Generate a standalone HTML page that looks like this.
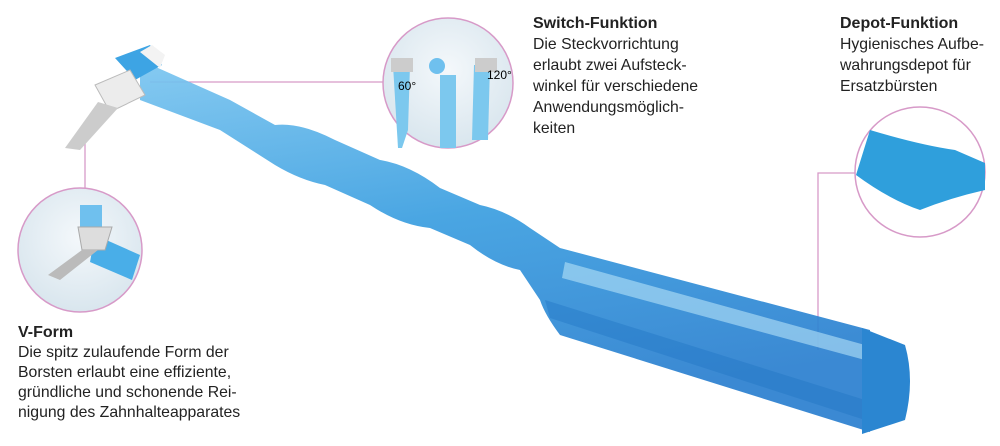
<!DOCTYPE html>
<html><head><meta charset="utf-8"><style>
body{margin:0;width:1000px;height:446px;background:#fff;overflow:hidden;position:relative;font-family:"Liberation Sans",sans-serif;color:#222}
.t{position:absolute;font-size:15.8px;line-height:21px}
.t b{font-size:16px}
</style></head><body>
<svg width="1000" height="446" style="position:absolute;left:0;top:0">
<defs>
<linearGradient id="bl" x1="0" y1="0" x2="0.3" y2="1">
<stop offset="0" stop-color="#7cc6f0"/><stop offset=".5" stop-color="#3a9ee0"/><stop offset="1" stop-color="#2a7fcf"/></linearGradient>
<radialGradient id="cg" cx=".5" cy=".4" r=".6"><stop offset="0" stop-color="#f4f8fb"/><stop offset="1" stop-color="#d9e6ee"/></radialGradient>
</defs>
<g stroke="#d79ac8" stroke-width="1.3" fill="none">
<line x1="150" y1="82" x2="384" y2="82"/>
<line x1="85" y1="140" x2="85" y2="188"/>
<polyline points="818,350 818,173 856,173"/>
</g>
<path d="M140,60 L230,100 L275,125 Q300,122 335,140 L380,160 Q410,165 440,188 L480,205 Q505,210 530,228 L560,248 L870,330 L870,432 L560,335 Q545,315 540,300 L520,270 Q495,265 470,245 L430,228 Q400,225 370,205 L325,185 Q300,180 275,165 L220,130 L140,100 Z" fill="url(#bl)" opacity=".92"/>
<path d="M565,262 L865,345 L865,360 L562,278 Z" fill="#b6e2f8" opacity=".6"/>
<path d="M545,300 L865,400 L865,420 L550,318 Z" fill="#1f73c2" opacity=".4"/>
<path d="M862,328 L905,345 Q915,380 905,420 L862,434 Z" fill="#2b86d1"/>
<path d="M115,58 L150,45 L162,65 L135,80 Z" fill="#3da4e4"/>
<path d="M140,52 L152,45 L165,55 L160,68 Z" fill="#f3f3f3"/>
<path d="M95,85 L130,70 L145,95 L110,112 Z" fill="#ececec" stroke="#bbb"/>
<path d="M98,102 L118,108 L80,150 L65,148 Z" fill="#ccc"/>
<circle cx="80" cy="250" r="62" fill="url(#cg)" stroke="#d79ac8" stroke-width="1.5"/>
<path d="M95,235 L140,255 L132,280 L90,262 Z" fill="#49aee8"/>
<rect x="80" y="205" width="22" height="25" fill="#6fc0ee"/>
<path d="M78,227 L112,227 L105,250 L82,250 Z" fill="#ddd" stroke="#aaa"/>
<path d="M82,250 L98,250 L60,280 L48,275 Z" fill="#bbb"/>
<circle cx="448" cy="83" r="65" fill="url(#cg)" stroke="#d79ac8" stroke-width="1.5"/>
<path d="M393,65 L410,65 L408,130 L402,148 L398,148 Z" fill="#7cc8ee"/>
<path d="M440,75 L456,75 L456,148 L440,148 Z" fill="#7cc8ee"/>
<circle cx="437" cy="66" r="8" fill="#6fc0ee"/>
<path d="M474,65 L490,65 L488,140 L472,140 Z" fill="#7cc8ee"/>
<rect x="391" y="58" width="22" height="14" fill="#ccc"/>
<rect x="475" y="58" width="22" height="14" fill="#ccc"/>
<text x="398" y="90" font-size="12" font-family="Liberation Sans">60°</text>
<text x="487" y="79" font-size="12" font-family="Liberation Sans">120°</text>
<circle cx="920" cy="172" r="65" fill="#fff" stroke="#d79ac8" stroke-width="1.5"/>
<path d="M870,130 Q920,145 955,150 L985,163 L985,190 Q950,198 920,210 Q890,200 856,175 Z" fill="#2f9fdc"/>
</svg>
<div class="t" style="left:18px;top:323px;line-height:20px"><b>V-Form</b><br>Die spitz zulaufende Form der<br>Borsten erlaubt eine effiziente,<br>gründliche und schonende Rei-<br>nigung des Zahnhalteapparates</div>
<div class="t" style="left:533px;top:13px"><b>Switch-Funktion</b><br>Die Steckvorrichtung<br>erlaubt zwei Aufsteck-<br>winkel für verschiedene<br>Anwendungsmöglich-<br>keiten</div>
<div class="t" style="left:840px;top:13px"><b>Depot-Funktion</b><br>Hygienisches Aufbe-<br>wahrungsdepot für<br>Ersatzbürsten</div>
</body></html>
